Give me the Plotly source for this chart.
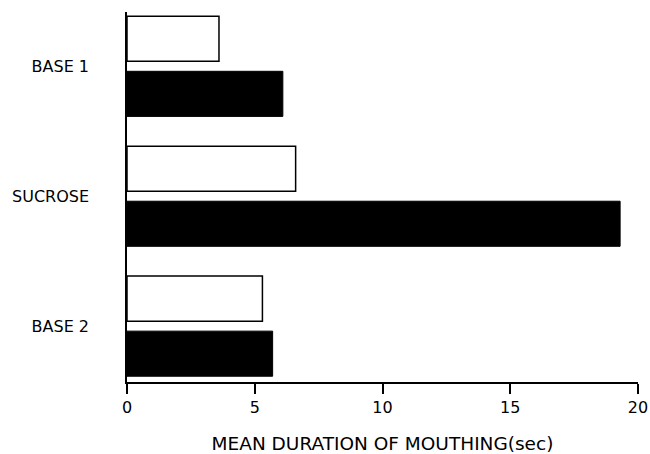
import plotly.graph_objects as go

categories = ["BASE 1", "SUCROSE", "BASE 2"]
open_values = [3.6, 6.6, 5.3]
filled_values = [6.1, 19.3, 5.7]
x_ticks = [0, 5, 10, 15, 20]

FONT = "DejaVu Sans, Verdana, sans-serif"

fig = go.Figure()
fig.add_trace(go.Bar(
    y=categories, x=open_values, orientation="h",
    marker=dict(color="white", line=dict(color="black", width=1.5)),
    width=0.347, offset=-0.385, showlegend=False,
))
fig.add_trace(go.Bar(
    y=categories, x=filled_values, orientation="h",
    marker=dict(color="black", line=dict(color="black", width=1)),
    width=0.347, offset=0.0385, showlegend=False,
))

fig.update_layout(
    width=650, height=454,
    margin=dict(l=127, r=12, t=12, b=72),
    plot_bgcolor="white", paper_bgcolor="white",
    font=dict(family=FONT, size=16, color="black"),
    xaxis=dict(
        range=[0, 20], tickvals=x_ticks, ticktext=[str(v) for v in x_ticks],
        showline=True, linecolor="black", linewidth=1.5,
        ticks="outside", ticklen=10, tickwidth=1.5, tickcolor="black",
        showgrid=False, zeroline=False, automargin=False,
        tickfont=dict(family=FONT, size=16),
        title=dict(text="MEAN DURATION OF MOUTHING(sec)", standoff=27,
                   font=dict(family=FONT, size=18.5)),
    ),
    yaxis=dict(
        type="category", categoryorder="array", categoryarray=categories,
        range=[2.43, -0.418],
        showline=True, linecolor="black", linewidth=1.5,
        ticks="", showgrid=False, zeroline=False, automargin=False,
        tickfont=dict(family=FONT, size=16),
        ticklabelstandoff=33,
    ),
)

# remove the browser's default page margin so the figure fills the window exactly
fig.write_html(
    "out.html",
    config={"displayModeBar": False},
    post_script="document.body.style.margin='0';document.body.style.overflow='hidden';",
)
